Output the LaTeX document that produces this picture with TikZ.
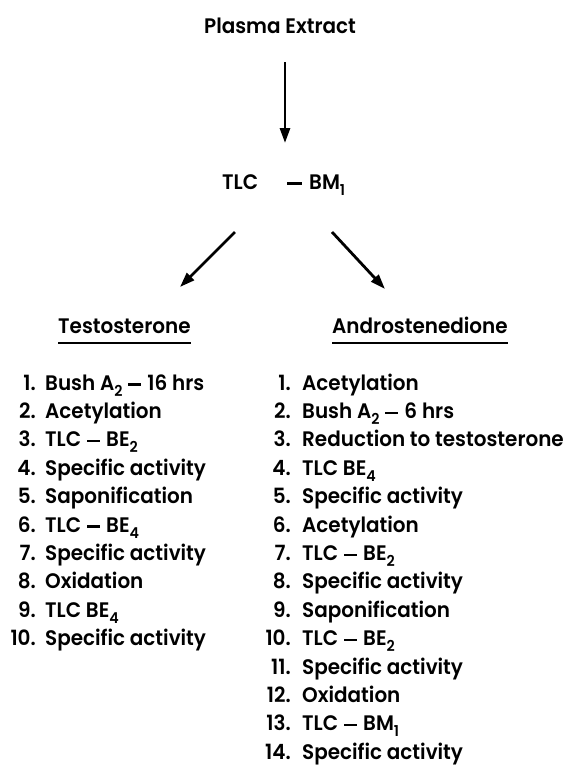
\documentclass[tikz,border=0pt]{standalone}
\usepackage{fontspec}
\setmainfont{Poppins}[UprightFont={* SemiBold}, FakeStretch=0.95]
\usetikzlibrary{arrows.meta}
\newcommand{\subx}[1]{\raisebox{-6pt}{\fontsize{15}{15}\selectfont #1}}
\newcommand{\dashx}{\hspace{6pt}\rule[4.5pt]{13pt}{2.4pt}\hspace{6pt}}
\begin{document}
\begin{tikzpicture}[x=1pt,y=-1pt,
  txt/.style={inner sep=0pt, font=\fontsize{21}{24}\selectfont},
  arr/.style={line width=2.8pt, -{Triangle[length=15pt,width=10pt]}},
  uline/.style={line width=2.4pt}]
\useasboundingbox (0,0) rectangle (569,774);
\node[txt, anchor=base] (pe) at (280,33) {Plasma Extract};
\node[txt, anchor=base west] (tlc) at (222,189) {\makebox[65pt][l]{TLC}\rule[4.5pt]{15pt}{2.4pt}\hspace{7pt}BM\subx{1}};
\coordinate (a0s) at (285,62);
\coordinate (a0e) at (285,143);
\draw[arr] (a0s) -- (a0e);
\coordinate (a1s) at (235,232);
\coordinate (a1e) at (180,287);
\coordinate (a2s) at (332,232);
\coordinate (a2e) at (385,289);
\draw[arr] (a1s) -- (a1e);
\draw[arr] (a2s) -- (a2e);
\node[txt, anchor=base west] (th) at (58,333) {Testosterone};
\node[txt, anchor=base west] (ah) at (332,333) {Androstenedione};
\draw[uline] ([yshift=-10pt]th.base west) -- ([yshift=-10pt]th.base east);
\draw[uline] ([yshift=-10pt]ah.base west) -- ([yshift=-10pt]ah.base east);
\foreach \t [count=\i] in {
  {Bush A\subx{2}\dashx 16 hrs},
  {Acetylation},
  {TLC\dashx BE\subx{2}},
  {Specific activity},
  {Saponification},
  {TLC\dashx BE\subx{4}},
  {Specific activity},
  {Oxidation},
  {TLC BE\subx{4}},
  {Specific activity}}
  {\node[txt, anchor=base east] (ln\i) at (36,390+28.4*\i-28.4) {\i.};
   \node[txt, anchor=base west] (l\i) at (45,390+28.4*\i-28.4) {\t};}
\foreach \t [count=\i] in {
  {Acetylation},
  {Bush A\subx{2}\dashx 6 hrs},
  {Reduction to testosterone},
  {TLC BE\subx{4}},
  {Specific activity},
  {Acetylation},
  {TLC\dashx BE\subx{2}},
  {Specific activity},
  {Saponification},
  {TLC\dashx BE\subx{2}},
  {Specific activity},
  {Oxidation},
  {TLC\dashx BM\subx{1}},
  {Specific activity}}
  {\node[txt, anchor=base east] (rn\i) at (291,390+28.4*\i-28.4) {\i.};
   \node[txt, anchor=base west] (r\i) at (302,390+28.4*\i-28.4) {\t};}
\end{tikzpicture}
\end{document}
